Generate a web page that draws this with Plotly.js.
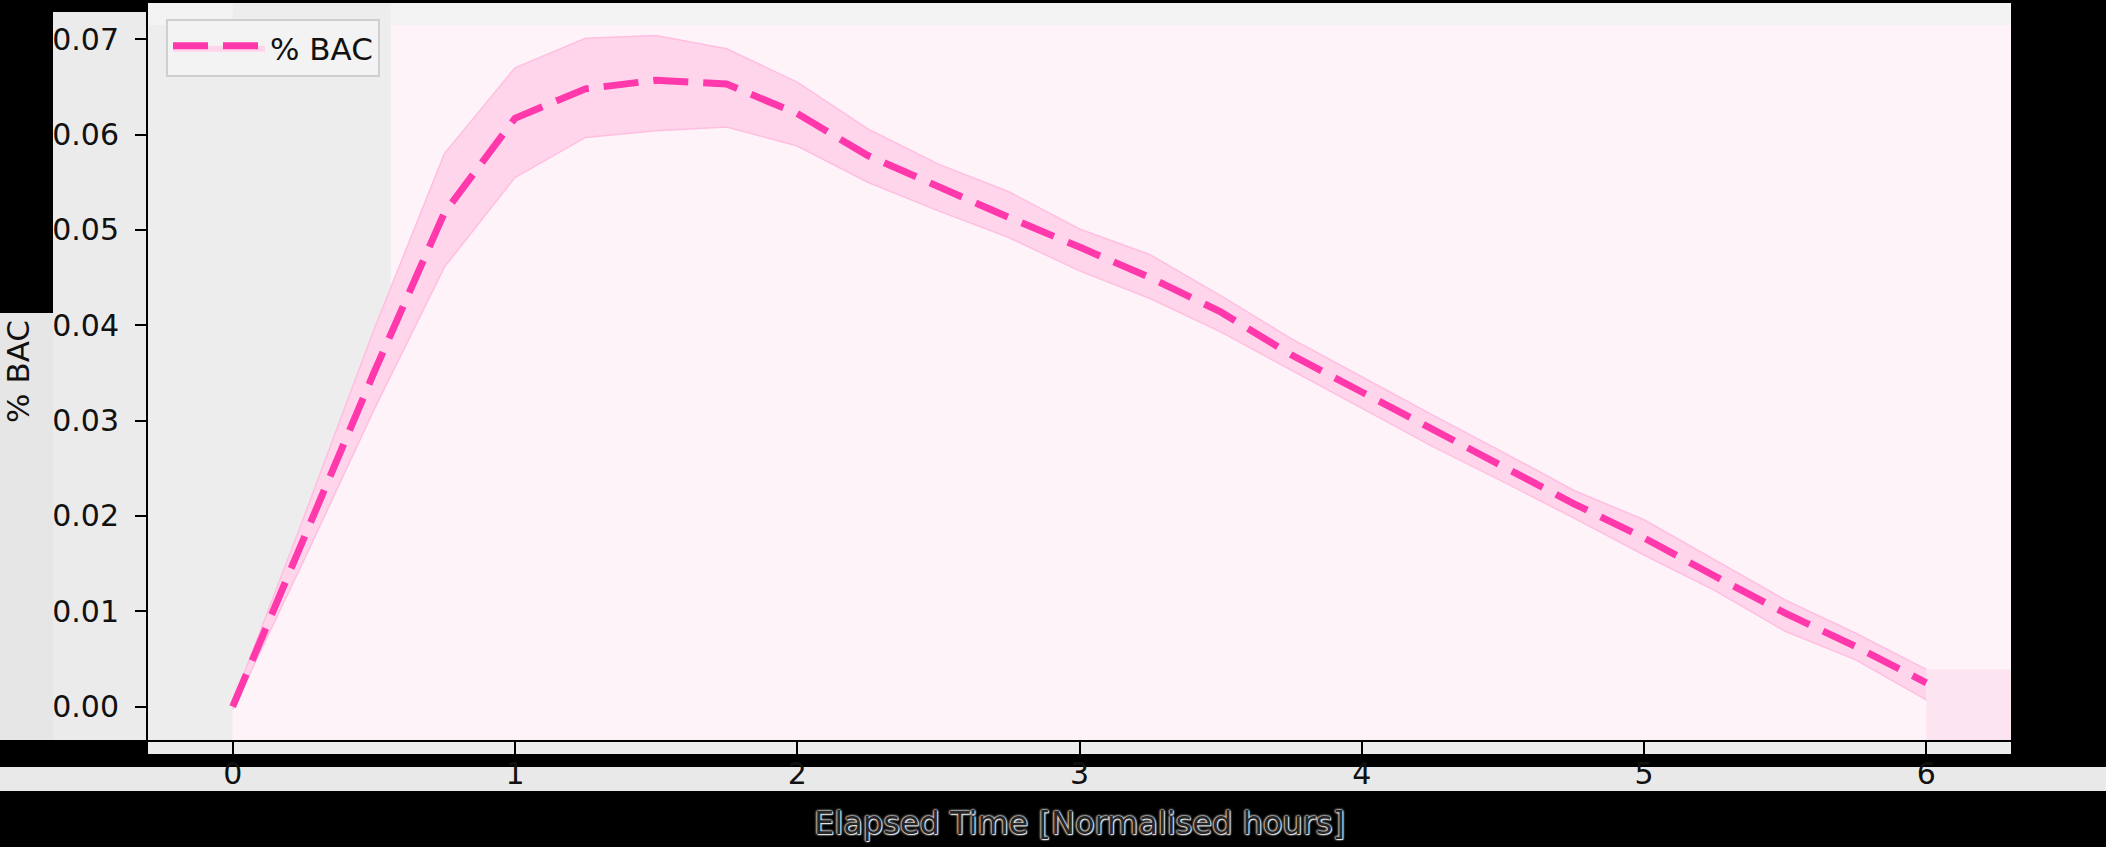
<!DOCTYPE html>
<html>
<head>
<meta charset="utf-8">
<script src="https://cdn.plot.ly/plotly-3.0.1.min.js"></script>
<style>
  html, body { margin: 0; padding: 0; background: #000; }
  #chart { width: 2106px; height: 847px; }
</style>
</head>
<body>
<div id="chart"></div>
<script>
// elapsed time, normalised hours
const hours = [0, 0.25, 0.5, 0.75, 1, 1.25, 1.5, 1.75, 2, 2.25, 2.5, 2.75, 3,
  3.25, 3.5, 3.75, 4, 4.25, 4.5, 4.75, 5, 5.25, 5.5, 5.75, 6];

// mean %BAC
const bacMean = [0, 0.0177, 0.0350, 0.0518, 0.0617, 0.0648, 0.0657, 0.0653, 0.0622,
  0.0578, 0.0545, 0.0513, 0.0482, 0.0450, 0.0414, 0.0369, 0.0330, 0.0290, 0.0252,
  0.0213, 0.0177, 0.0137, 0.0098, 0.0063, 0.0025];

// band around the mean
const bacUpper = [0.0004, 0.0197, 0.0395, 0.0580, 0.0670, 0.0701, 0.0704, 0.0690, 0.0655,
  0.0606, 0.0569, 0.0540, 0.0501, 0.0474, 0.0431, 0.0386, 0.0346, 0.0306, 0.0267,
  0.0227, 0.0196, 0.0154, 0.0112, 0.0077, 0.0039];
const bacLower = [-0.0003, 0.0152, 0.0311, 0.0461, 0.0555, 0.0597, 0.0604, 0.0608, 0.0588,
  0.0550, 0.0520, 0.0492, 0.0457, 0.0428, 0.0393, 0.0353, 0.0313, 0.0273, 0.0236,
  0.0198, 0.0159, 0.0122, 0.0079, 0.0049, 0.0007];

const xTicks = [0, 1, 2, 3, 4, 5, 6];
const yTicks = [0, 0.01, 0.02, 0.03, 0.04, 0.05, 0.06, 0.07];

const W = 2106, H = 847;
const ml = 148, mr = 95, mt = 3, mb = 107;
const pw = W - ml - mr, ph = H - mt - mb;
const fx = p => (p - ml) / pw;
const fy = p => 1 - (p - mt) / ph;

const font = 'DejaVu Sans, Liberation Sans, sans-serif';
const pinkBg = '#fff3fa';
const bandPink = '#ffd5ec';
const xRange = [-0.3, 6.3];
const yRange = [-0.0035, 0.0738];

const lower = {
  x: hours, y: bacLower, type: 'scatter', mode: 'lines',
  line: {color: '#ffbfe0', width: 1.5},
  fill: 'tozeroy', fillcolor: pinkBg,
  showlegend: false, hoverinfo: 'skip'
};
const upper = {
  x: hours, y: bacUpper, type: 'scatter', mode: 'lines',
  line: {color: '#ffbfe0', width: 1.5},
  fill: 'tonexty', fillcolor: bandPink,
  showlegend: false, hoverinfo: 'skip'
};
// fill in band colour only so the legend gets the patch under the line
const mean = {
  x: hours, y: bacMean, type: 'scatter', mode: 'lines',
  name: '% BAC',
  fill: 'tonexty', fillcolor: bandPink,
  line: {color: '#ff38ab', width: 7, dash: '35px,15px'}
};

// the washed-out backdrop pieces round the axes
const shapes = [
  {type: 'rect', xref: 'paper', yref: 'paper', x0: fx(53), x1: fx(148), y0: fy(740), y1: fy(12),
    fillcolor: '#ebebeb', line: {width: 0}, layer: 'below'},
  {type: 'rect', xref: 'paper', yref: 'paper', x0: fx(0), x1: fx(53), y0: fy(740), y1: fy(313),
    fillcolor: '#e6e6e6', line: {width: 0}, layer: 'below'},
  {type: 'rect', xref: 'paper', yref: 'paper', x0: fx(148), x1: fx(2011), y0: fy(754), y1: fy(740),
    fillcolor: '#ececec', line: {width: 0}, layer: 'below'},
  {type: 'rect', xref: 'paper', yref: 'paper', x0: fx(0), x1: fx(2106), y0: fy(791), y1: fy(767),
    fillcolor: '#e9e9e9', line: {width: 0}, layer: 'below'},
  {type: 'rect', xref: 'x', yref: 'paper', x0: xRange[0], x1: 0, y0: 0, y1: 1,
    fillcolor: '#ededed', line: {width: 0}, layer: 'below'},
  {type: 'rect', xref: 'x', yref: 'y', x0: 0, x1: 0.56, y0: 0, y1: yRange[1],
    fillcolor: '#ededed', line: {width: 0}, layer: 'below'},
  {type: 'rect', xref: 'x', yref: 'paper', x0: xRange[0], x1: xRange[1], y0: fy(25), y1: 1,
    fillcolor: '#f3f3f3', line: {width: 0}, layer: 'below'},
  {type: 'rect', xref: 'x', yref: 'y', x0: 6, x1: xRange[1], y0: yRange[0], y1: 0.0039,
    fillcolor: '#fde4f1', line: {width: 0}, layer: 'below'}
];

const layout = {
  width: W, height: H,
  margin: {l: ml, r: mr, t: mt, b: mb},
  paper_bgcolor: '#000000',
  plot_bgcolor: pinkBg,
  font: {family: font, size: 30, color: '#111111'},
  showlegend: true,
  legend: {
    x: fx(166), y: fy(19), xanchor: 'left', yanchor: 'top',
    bgcolor: '#f3f3f3', bordercolor: '#cfcfcf', borderwidth: 2,
    itemwidth: 92,
    font: {family: font, size: 31, color: '#111111'}
  },
  xaxis: {
    range: xRange, tickvals: xTicks, ticktext: xTicks.map(String),
    showgrid: false, zeroline: false,
    showline: true, mirror: true, linecolor: '#000000', linewidth: 2,
    ticks: 'outside', ticklen: 13, tickwidth: 2, tickcolor: '#000000',
    ticklabelstandoff: -7,
    tickfont: {family: font, size: 30, color: '#111111'},
    title: {
      text: 'Elapsed Time [Normalised hours]', standoff: 22,
      font: {family: font, size: 32, color: '#262626',
        shadow: '0 0 2px #e6e6e6, 0 0 2px #e6e6e6, 0 0 3px #e6e6e6, 1px 1px 1px #f0f0f0'}
    }
  },
  yaxis: {
    range: yRange, tickvals: yTicks, tickformat: '.2f',
    showgrid: false, zeroline: false,
    showline: true, mirror: true, linecolor: '#000000', linewidth: 2,
    ticks: 'outside', ticklen: 11, tickwidth: 2, tickcolor: '#000000',
    ticklabelstandoff: 10,
    tickfont: {family: font, size: 30, color: '#111111'},
    title: {text: '% BAC', standoff: 20, font: {family: font, size: 31, color: '#111111'}}
  },
  shapes: shapes
};

Plotly.newPlot('chart', [lower, upper, mean], layout, {displayModeBar: false, staticPlot: true});
</script>
</body>
</html>
